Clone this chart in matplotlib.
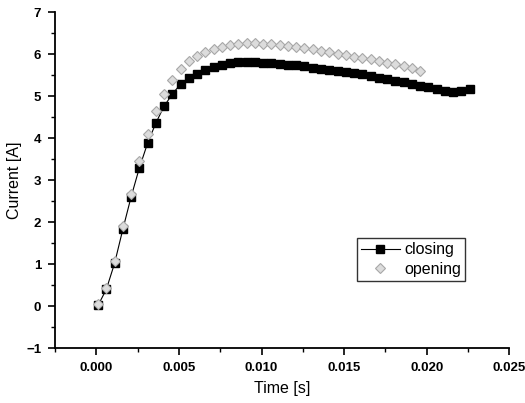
import matplotlib
matplotlib.use("Agg")
import matplotlib.pyplot as plt
from matplotlib.ticker import MultipleLocator, FormatStrFormatter

plt.rcParams['font.family'] = ['Liberation Sans', 'DejaVu Sans']

# time axis [s], one sample every 0.5 ms
time_closing = [0.0001, 0.0006, 0.0011, 0.0016, 0.0021, 0.0026, 0.0031, 0.0036,
                0.0041, 0.0046, 0.0051, 0.0056, 0.0061, 0.0066, 0.0071, 0.0076,
                0.0081, 0.0086, 0.0091, 0.0096, 0.0101, 0.0106, 0.0111, 0.0116,
                0.0121, 0.0126, 0.0131, 0.0136, 0.0141, 0.0146, 0.0151, 0.0156,
                0.0161, 0.0166, 0.0171, 0.0176, 0.0181, 0.0186, 0.0191, 0.0196,
                0.0201, 0.0206, 0.0211, 0.0216, 0.0221, 0.0226]
current_closing = [0.02, 0.40, 1.02, 1.83, 2.60, 3.29, 3.88, 4.36,
                   4.76, 5.05, 5.29, 5.43, 5.52, 5.62, 5.69, 5.74,
                   5.79, 5.81, 5.82, 5.82, 5.80, 5.78, 5.77, 5.75,
                   5.73, 5.71, 5.68, 5.65, 5.62, 5.60, 5.57, 5.55,
                   5.52, 5.48, 5.44, 5.40, 5.36, 5.33, 5.29, 5.25,
                   5.21, 5.17, 5.12, 5.10, 5.11, 5.18]

time_opening = time_closing[:40]
current_opening = [0.05, 0.43, 1.07, 1.90, 2.67, 3.45, 4.10, 4.64,
                   5.05, 5.38, 5.64, 5.83, 5.95, 6.05, 6.12, 6.18,
                   6.22, 6.25, 6.26, 6.26, 6.25, 6.24, 6.22, 6.20,
                   6.18, 6.15, 6.11, 6.07, 6.04, 6.01, 5.98, 5.94,
                   5.91, 5.88, 5.84, 5.80, 5.76, 5.72, 5.66, 5.60]

fig = plt.figure(figsize=(5.25, 4.03), dpi=100)
ax = fig.add_axes([0.105, 0.136, 0.865, 0.834])

ax.plot(time_closing, current_closing, color='black', lw=0.8, marker='s',
        markersize=6.3, markerfacecolor='black', markeredgecolor='black',
        label='closing', zorder=2)
ax.plot(time_opening, current_opening, linestyle='none', marker='D',
        markersize=4.8, markerfacecolor='#dcdcdc', markeredgecolor='#a8a8a8',
        markeredgewidth=0.8, label='opening', zorder=3)

ax.set_xlim(-0.0025, 0.025)
ax.set_ylim(-1, 7)
ax.xaxis.set_major_locator(MultipleLocator(0.005))
ax.xaxis.set_minor_locator(MultipleLocator(0.0025))
ax.xaxis.set_major_formatter(FormatStrFormatter('%.3f'))
ax.yaxis.set_major_locator(MultipleLocator(1))
ax.yaxis.set_minor_locator(MultipleLocator(0.5))

for side in ['top', 'right']:
    ax.spines[side].set_visible(False)
for side in ['left', 'bottom']:
    ax.spines[side].set_linewidth(1.3)

ax.tick_params(which='major', direction='out', length=5, width=1.2,
               labelsize=9.5, pad=5)
ax.tick_params(which='minor', direction='out', length=3, width=1.0)
for lab in ax.get_xticklabels() + ax.get_yticklabels():
    lab.set_fontweight('bold')

ax.set_xlabel('Time [s]', fontsize=11.5, labelpad=5)
ax.set_ylabel('Current [A]', fontsize=11.5, labelpad=3)

leg = ax.legend(loc='lower right', bbox_to_anchor=(0.903, 0.20), fontsize=11.5,
                frameon=True, fancybox=False, borderpad=0.25, handlelength=2.4,
                handletextpad=0.3, labelspacing=0.3, borderaxespad=0)
leg.get_frame().set_edgecolor('black')
leg.get_frame().set_linewidth(1.0)

fig.savefig('out.png', dpi=100)
